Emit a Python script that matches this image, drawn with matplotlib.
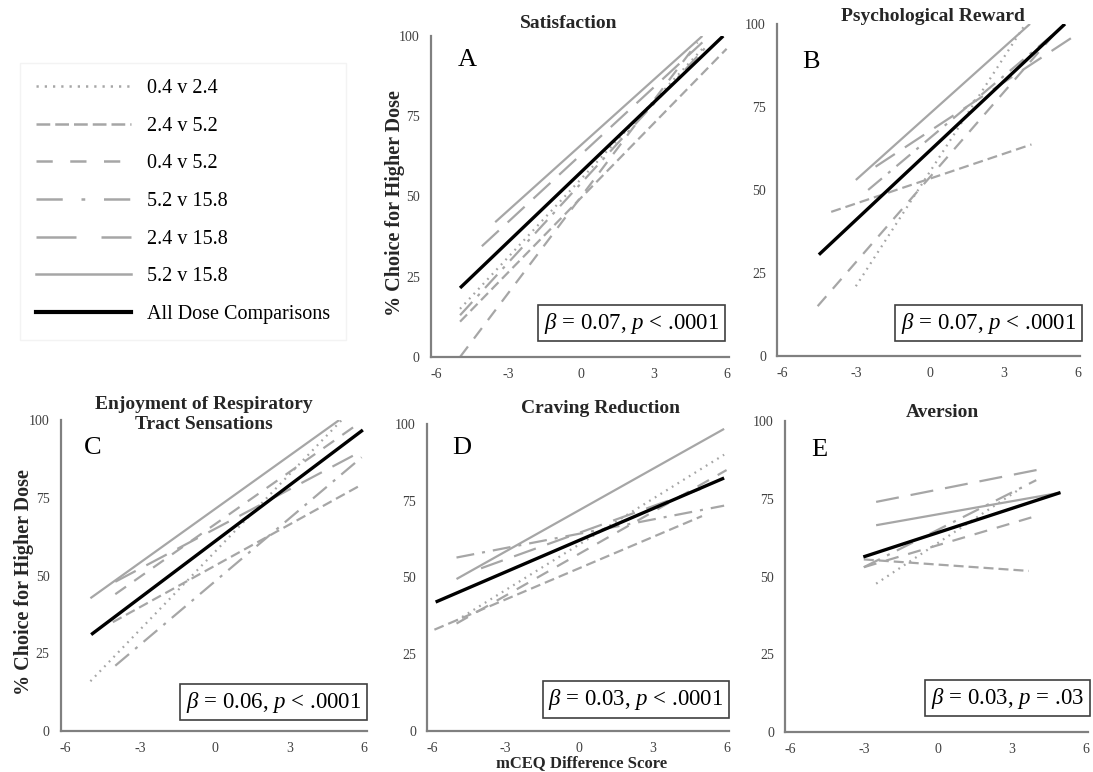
import matplotlib
matplotlib.use("Agg")
from matplotlib import pyplot as plt
from matplotlib.lines import Line2D

plt.rcParams["font.family"] = ["Liberation Serif", "DejaVu Serif"]
plt.rcParams["mathtext.fontset"] = "custom"
plt.rcParams["mathtext.rm"] = "Liberation Serif"
plt.rcParams["mathtext.it"] = "Liberation Serif:italic"
plt.rcParams["axes.unicode_minus"] = False

# series (same order in every panel)
labels = ["0.4 v 2.4", "2.4 v 5.2", "0.4 v 5.2", "5.2 v 15.8",
          "2.4 v 15.8", "5.2 v 15.8", "All Dose Comparisons"]

# each regression line: start x, end x, start y, end y
sat_x0 = [-5.0, -5.0, -5.0, -5.0, -4.1, -3.55, -5.0]
sat_x1 = [5.0, 6.0, 4.8, 5.2, 5.0, 5.0, 5.86]
sat_y0 = [15, 11, 0, 13, 34.5, 42, 21.5]
sat_y1 = [96, 96, 98, 97, 98, 100, 100]

rew_x0 = [-3.0, -4.0, -4.55, -2.5, -2.2, -3.0, -4.5]
rew_x1 = [3.8, 4.13, 5.3, 5.2, 6.0, 4.07, 5.49]
rew_y0 = [21, 43.4, 15, 50, 57, 53, 30.5]
rew_y1 = [99, 63.7, 99, 98, 97, 100, 100]

resp_x0 = [-5.0, -4.1, -4.0, -4.0, -4.0, -5.0, -4.97]
resp_x1 = [5.1, 5.85, 5.8, 5.9, 5.9, 5.0, 5.95]
resp_y0 = [16, 35, 44, 21, 48, 42.7, 31]
resp_y1 = [100, 79, 99, 88, 90, 100, 96.8]

crav_x0 = [-5.0, -5.9, -5.0, -5.0, -4.0, -5.0, -5.85]
crav_x1 = [5.9, 5.0, 6.0, 5.9, 5.0, 5.9, 5.9]
crav_y0 = [36, 33, 35, 56.5, 53, 49.5, 42]
crav_y1 = [90, 70, 85, 73.4, 79, 98.4, 82.4]

aver_x0 = [-2.5, -3.0, -3.0, -3.0, -2.5, -2.5, -3.02]
aver_x1 = [3.4, 3.7, 3.8, 4.0, 4.3, 5.0, 4.98]
aver_y0 = [47.7, 55.5, 53, 53, 74, 66.5, 56.3]
aver_y1 = [78.5, 51.8, 69, 81, 84.7, 77, 77]

titles = ["Satisfaction", "Psychological Reward",
          "Enjoyment of Respiratory\nTract Sensations", "Craving Reduction", "Aversion"]
letters = ["A", "B", "C", "D", "E"]
stats = [r"$\beta$ = 0.07, $p$ < .0001", r"$\beta$ = 0.07, $p$ < .0001",
         r"$\beta$ = 0.06, $p$ < .0001", r"$\beta$ = 0.03, $p$ < .0001",
         r"$\beta$ = 0.03, $p$ = .03"]
xticks = [-6, -3, 0, 3, 6]
yticks = [0, 25, 50, 75, 100]

gray = "#a6a6a6"
dashes = [(0, (0.8, 2.2)), (0, (4.5, 2.25)), (0, (5.9, 4.5)),
          (0, (8.1, 3.6, 1.35, 3.6)), (0, (10.4, 5.4)), "-", "-"]
colors = [gray] * 6 + ["black"]
widths = [1.6] * 6 + [2.4]

fig = plt.figure(figsize=(10.93, 7.72), dpi=100)

boxes = [
    [0.3943, 0.5376, 0.2727, 0.4158],
    [0.7109, 0.5389, 0.2772, 0.4301],
    [0.0554, 0.0531, 0.2800, 0.4028],
    [0.3907, 0.0531, 0.2763, 0.3977],
    [0.7182, 0.0518, 0.2772, 0.4028],
]
title_pos = [(0.463, 1.04), (0.515, 1.021), (0.469, 1.018), (0.573, 1.052), (0.52, 1.026)]
letter_pos = [(0.121, 0.925), (0.112, 0.886), (0.106, 0.91), (0.115, 0.922), (0.112, 0.907)]
stat_pos = [(0.673, 0.105), (0.698, 0.099), (0.695, 0.093), (0.692, 0.103), (0.734, 0.109)]

data = [(sat_x0, sat_x1, sat_y0, sat_y1),
        (rew_x0, rew_x1, rew_y0, rew_y1),
        (resp_x0, resp_x1, resp_y0, resp_y1),
        (crav_x0, crav_x1, crav_y0, crav_y1),
        (aver_x0, aver_x1, aver_y0, aver_y1)]

for i, (x0, x1, y0, y1) in enumerate(data):
    ax = fig.add_axes(boxes[i])
    for k in range(len(labels)):
        ax.plot([x0[k], x1[k]], [y0[k], y1[k]], color=colors[k], lw=widths[k],
                linestyle=dashes[k], solid_capstyle="butt", zorder=3 if k == 6 else 2)
    ax.set_xlim(-6.2, 6.1)
    ax.set_ylim(0, 100)
    ax.set_xticks(xticks)
    ax.set_yticks(yticks)
    ax.tick_params(length=0, labelsize=10, labelcolor="#404040", pad=8)
    for s in ["top", "right"]:
        ax.spines[s].set_visible(False)
    for s in ["left", "bottom"]:
        ax.spines[s].set_color("#808080")
        ax.spines[s].set_linewidth(1.6)
    ax.set_facecolor("none")
    ax.text(title_pos[i][0], title_pos[i][1], titles[i], transform=ax.transAxes,
            ha="center", va="center", fontsize=14, fontweight="bold",
            color="#262626", linespacing=1.25)
    ax.text(letter_pos[i][0], letter_pos[i][1], letters[i], transform=ax.transAxes,
            ha="center", va="center", fontsize=19)
    ax.text(stat_pos[i][0], stat_pos[i][1], stats[i], transform=ax.transAxes,
            ha="center", va="center", fontsize=16.5, zorder=5,
            bbox=dict(boxstyle="square,pad=0.25", fc="white", ec="#404040", lw=1.2))
    if i in (0, 2):
        ax.text(-0.12, 0.48, "% Choice for Higher Dose", transform=ax.transAxes,
                rotation=90, ha="center", va="center", fontsize=14.5,
                fontweight="bold", color="#262626")
    if i == 3:
        ax.text(0.512, -0.104, "mCEQ Difference Score", transform=ax.transAxes,
                ha="center", va="center", fontsize=12, fontweight="bold",
                color="#262626")

# legend drawn with bigger dash patterns, like the reference key
leg_dashes = [(0, (0.9, 2.4)), (0, (5.5, 2.0)), (0, (6.5, 7.0)),
              (0, (10.5, 7.5, 1.5, 7.5)), (0, (16.0, 10.0)), "-", "-"]
leg_widths = [1.8] * 6 + [3.0]
handles = [Line2D([], [], color=colors[k], lw=leg_widths[k], linestyle=leg_dashes[k])
           for k in range(len(labels))]
fig.legend(handles, labels, loc="upper left", bbox_to_anchor=(20 / 1093, 1 - 63 / 772),
           borderaxespad=0, frameon=True, fontsize=14.5, handlelength=4.7,
           handletextpad=0.8, labelspacing=0.92, borderpad=0.8, fancybox=False,
           edgecolor="#f0f0f0")

fig.savefig("out.png", dpi=100)
